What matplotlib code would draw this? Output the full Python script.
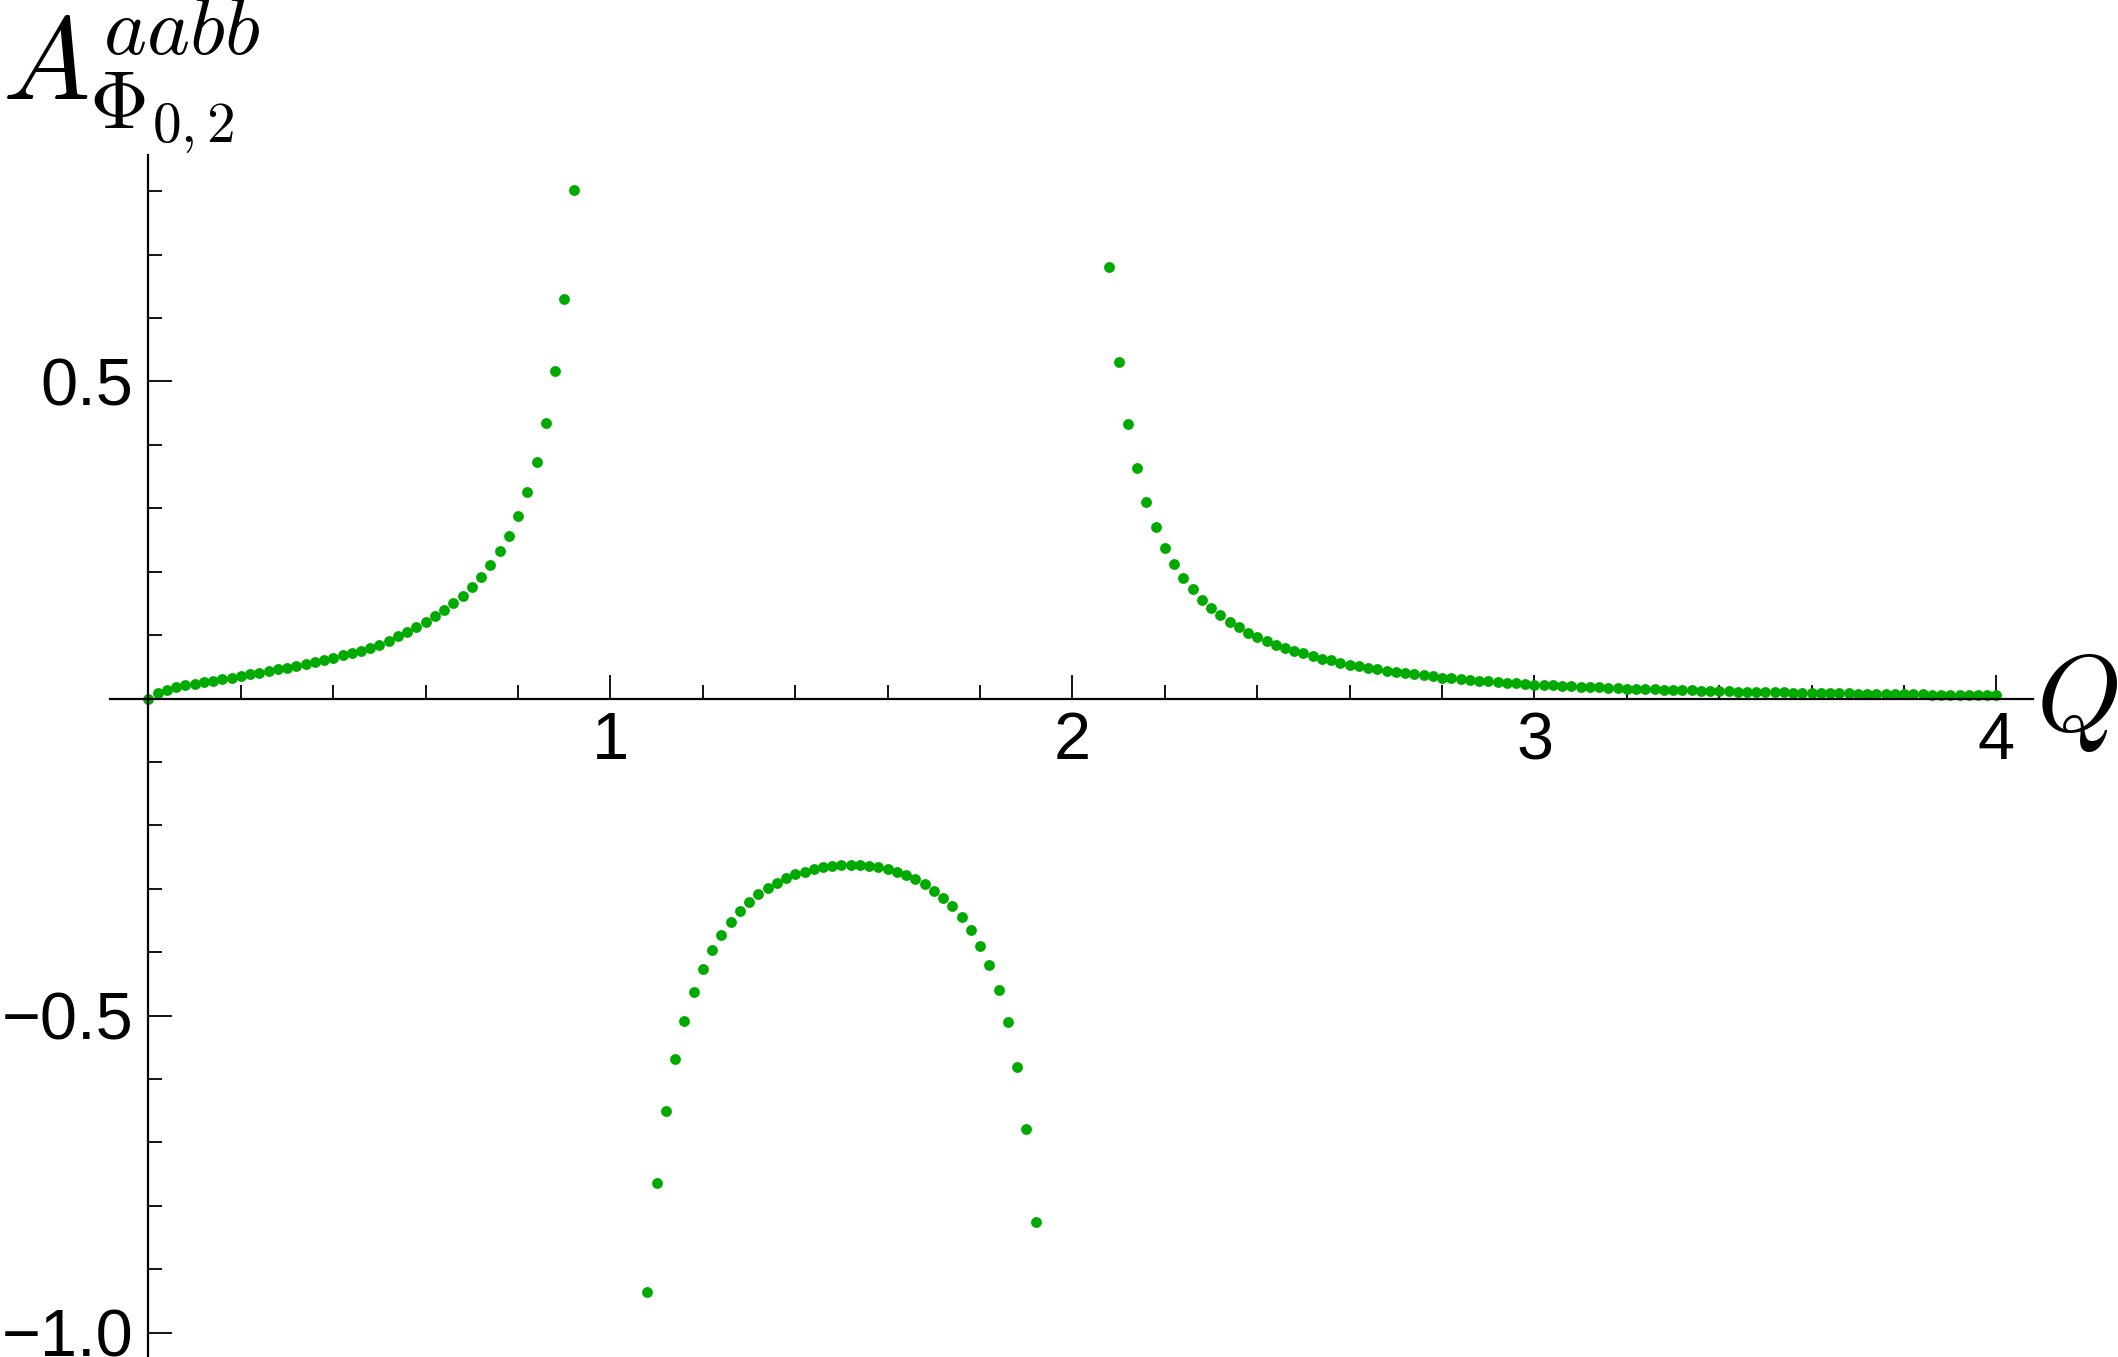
import numpy as np
import matplotlib
matplotlib.use('Agg')
import matplotlib.pyplot as plt
from matplotlib.ticker import FixedLocator

plt.rcParams['font.family'] = ['Liberation Sans', 'DejaVu Sans']
plt.rcParams['mathtext.fontset'] = 'cm'

# sampled every 0.02 in Q, points outside the plot range are dropped
step = 0.02
q0_left, q0_mid, q0_right = 0.0, 1.08, 2.08

amp_left = [0.0, 0.009, 0.014, 0.018, 0.021, 0.023, 0.026, 0.028, 0.031, 0.033,
            0.035, 0.038, 0.040, 0.043, 0.046, 0.048, 0.051, 0.054, 0.057, 0.060,
            0.064, 0.068, 0.072, 0.075, 0.080, 0.085, 0.091, 0.098, 0.105, 0.113,
            0.121, 0.130, 0.139, 0.150, 0.162, 0.176, 0.192, 0.211, 0.232, 0.257,
            0.288, 0.326, 0.373, 0.434, 0.516, 0.630, 0.802]

amp_mid = [-0.936, -0.764, -0.650, -0.569, -0.509, -0.463, -0.426, -0.397, -0.373, -0.352,
           -0.335, -0.321, -0.309, -0.299, -0.291, -0.283, -0.277, -0.273, -0.269, -0.266,
           -0.264, -0.262, -0.262, -0.263, -0.264, -0.266, -0.269, -0.274, -0.278, -0.285,
           -0.293, -0.303, -0.314, -0.328, -0.345, -0.365, -0.390, -0.421, -0.460, -0.511,
           -0.581, -0.679, -0.826]

amp_right = [0.680, 0.531, 0.433, 0.363, 0.310, 0.270, 0.238, 0.212, 0.190, 0.172,
             0.156, 0.143, 0.131, 0.121, 0.112, 0.104, 0.097, 0.091, 0.085, 0.080,
             0.075, 0.071, 0.067, 0.063, 0.060, 0.056, 0.053, 0.051, 0.048, 0.046,
             0.044, 0.042, 0.040, 0.038, 0.037, 0.035, 0.033, 0.032, 0.030, 0.029,
             0.028, 0.027, 0.026, 0.025, 0.024, 0.023, 0.022, 0.0213, 0.0206, 0.0199,
             0.0192, 0.0186, 0.0180, 0.0174, 0.0168, 0.0162, 0.0156, 0.0152, 0.0148, 0.0143,
             0.0139, 0.0135, 0.0131, 0.0127, 0.0123, 0.0119, 0.0115, 0.0112, 0.0109, 0.0106,
             0.0103, 0.0100, 0.0097, 0.0095, 0.0092, 0.0090, 0.0088, 0.0086, 0.0084, 0.0082,
             0.0080, 0.0078, 0.0076, 0.0074, 0.0072, 0.0070, 0.0068, 0.0066, 0.0064, 0.0062,
             0.0060, 0.0058, 0.0056, 0.0054, 0.0052, 0.0050, 0.0048]

q_left = np.round(q0_left + step * np.arange(len(amp_left)), 2)
q_mid = np.round(q0_mid + step * np.arange(len(amp_mid)), 2)
q_right = np.round(q0_right + step * np.arange(len(amp_right)), 2)

x_major = [1, 2, 3, 4]
x_labels = ['1', '2', '3', '4']
x_minor = [0.2, 0.4, 0.6, 0.8, 1.2, 1.4, 1.6, 1.8, 2.2, 2.4, 2.6, 2.8, 3.2, 3.4, 3.6, 3.8]
y_major = [-1.0, -0.5, 0.5]
y_labels = ['\u22121.0', '\u22120.5', '0.5']
y_minor = [-0.9, -0.8, -0.7, -0.6, -0.4, -0.3, -0.2, -0.1, 0.1, 0.2, 0.3, 0.4, 0.6, 0.7, 0.8]

green = '#00aa00'

fig = plt.figure(figsize=(10.59, 6.785), dpi=200)
ax = fig.add_axes([0, 0, 1, 1])
ax.patch.set_alpha(0)

for q, a in [(q_left, amp_left), (q_mid, amp_mid), (q_right, amp_right)]:
    ax.plot(q, a, 'o', ls='none', ms=3.9, mew=0, color=green)

ax.set_xlim(-0.3214, 4.263)
ax.set_ylim(-1.0386, 1.1017)

for s in ['top', 'right']:
    ax.spines[s].set_visible(False)
ax.spines['left'].set_position(('data', 0))
ax.spines['bottom'].set_position(('data', 0))
ax.spines['left'].set_bounds(-1.0386, 0.857)
ax.spines['bottom'].set_bounds(-0.083, 4.08)
ax.spines['left'].set_linewidth(0.8)
ax.spines['bottom'].set_linewidth(0.8)

ax.xaxis.set_ticks_position('bottom')
ax.yaxis.set_ticks_position('left')
ax.xaxis.set_major_locator(FixedLocator(x_major))
ax.xaxis.set_minor_locator(FixedLocator(x_minor))
ax.yaxis.set_major_locator(FixedLocator(y_major))
ax.yaxis.set_minor_locator(FixedLocator(y_minor))
ax.set_xticklabels(x_labels)
ax.set_yticklabels(y_labels)

ax.tick_params(which='both', direction='in', width=0.65, labelsize=24)
ax.tick_params(which='major', length=8.6)
ax.tick_params(which='minor', length=5.2)
ax.tick_params(axis='x', pad=4.5)
ax.tick_params(axis='y', pad=5.4)

fig.text(0.001, 0.927, r'$A_{\Phi_{0,2}}^{aabb}$', fontsize=42, ha='left', va='baseline')
fig.text(0.9615, 0.4613, r'$Q$', fontsize=39, ha='left', va='baseline')

fig.savefig('out.png', dpi=200)
